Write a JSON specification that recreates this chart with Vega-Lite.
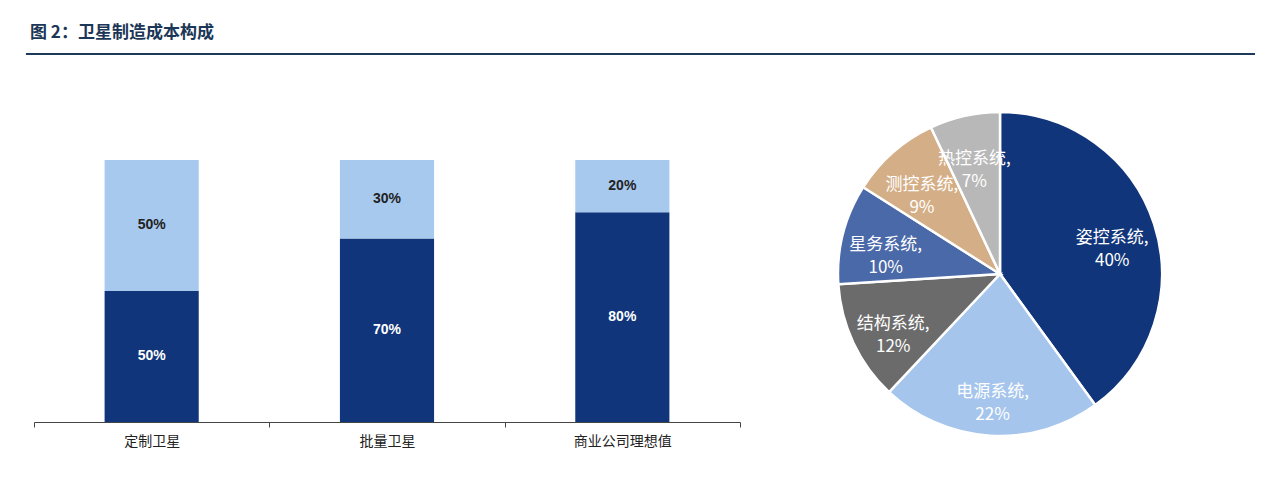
{
  "$schema": "https://vega.github.io/schema/vega-lite/v6.json",
  "background": "white",
  "padding": {"left": 24, "top": 24, "right": 10, "bottom": 5},
  "bounds": "flush",
  "spacing": 58,
  "config": {"view": {"stroke": null}, "font": "Noto Sans CJK SC"},
  "datasets": {
    "bars": [
      {"类别": "定制卫星", "部分": "下段", "层次": 1, "占比": 0.5},
      {"类别": "定制卫星", "部分": "上段", "层次": 2, "占比": 0.5},
      {"类别": "批量卫星", "部分": "下段", "层次": 1, "占比": 0.7},
      {"类别": "批量卫星", "部分": "上段", "层次": 2, "占比": 0.3},
      {"类别": "商业公司理想值", "部分": "下段", "层次": 1, "占比": 0.8},
      {"类别": "商业公司理想值", "部分": "上段", "层次": 2, "占比": 0.2}
    ],
    "pie": [
      {"系统": "姿控系统", "序号": 1, "占比": 40, "标签": "姿控系统,\n40%"},
      {"系统": "电源系统", "序号": 2, "占比": 22, "标签": "电源系统,\n22%"},
      {"系统": "结构系统", "序号": 3, "占比": 12, "标签": "结构系统,\n12%"},
      {"系统": "星务系统", "序号": 4, "占比": 10, "标签": "星务系统,\n10%"},
      {"系统": "测控系统", "序号": 5, "占比": 9, "标签": "测控系统,\n9%"},
      {"系统": "热控系统", "序号": 6, "占比": 7, "标签": "热控系统,\n7%"}
    ]
  },
  "vconcat": [
    {
      "title": {"text": "图 2：卫星制造成本构成", "anchor": "start", "frame": "group", "fontSize": 17, "fontWeight": "bold", "color": "#1b3656", "offset": 10, "dx": -4, "font": "Noto Sans CJK SC"},
      "width": 1221,
      "height": 2,
      "data": {"values": [{"起": -0.0066, "止": 1}]},
      "mark": {"type": "rule", "color": "#1d3a58", "strokeWidth": 2},
      "encoding": {
        "x": {"field": "起", "type": "quantitative", "scale": {"domain": [0, 1], "nice": false, "zero": false}, "axis": null},
        "x2": {"field": "止"},
        "y": {"datum": 0, "type": "quantitative", "scale": {"domain": [0, 1]}, "axis": null}
      }
    },
    {
      "bounds": "flush",
      "spacing": 98,
      "resolve": {"scale": {"color": "independent"}},
      "hconcat": [
        {
          "width": 706,
          "height": 310,
          "data": {"name": "bars"},
          "transform": [
            {"stack": "占比", "groupby": ["类别"], "sort": [{"field": "层次", "order": "ascending"}], "as": ["y0", "y1"]},
            {"calculate": "(datum.y0 + datum.y1) / 2", "as": "ymid"}
          ],
          "encoding": {
            "x": {
              "field": "类别", "type": "nominal", "sort": null,
              "scale": {"paddingInner": 0, "paddingOuter": 0},
              "axis": {"title": null, "labelAngle": 0, "labelFontSize": 14, "labelColor": "#222", "labelPadding": 7, "tickBand": "extent", "tickSize": 5, "domainColor": "#444", "tickColor": "#444", "labelFont": "Noto Sans CJK SC"}
            }
          },
          "layer": [
            {
              "mark": {"type": "bar", "width": {"band": 0.4}},
              "encoding": {
                "y": {"field": "y0", "type": "quantitative", "scale": {"domain": [0, 1.183], "nice": false}, "axis": null},
                "y2": {"field": "y1"},
                "color": {"field": "部分", "type": "nominal", "scale": {"domain": ["下段", "上段"], "range": ["#10357a", "#a8c9ee"]}, "legend": null}
              }
            },
            {
              "mark": {"type": "text", "fontSize": 14, "fontWeight": "bold", "font": "Liberation Sans"},
              "encoding": {
                "y": {"field": "ymid", "type": "quantitative"},
                "text": {"field": "占比", "type": "quantitative", "format": ".0%"},
                "color": {"condition": {"test": "datum['层次'] == 1", "value": "white"}, "value": "#222"}
              }
            }
          ]
        },
        {
          "width": 324,
          "height": 324,
          "data": {"name": "pie"},
          "encoding": {
            "theta": {"field": "占比", "type": "quantitative", "stack": true},
            "order": {"field": "序号", "type": "quantitative"}
          },
          "layer": [
            {
              "mark": {"type": "arc", "outerRadius": 162, "stroke": "white", "strokeWidth": 2.5},
              "encoding": {
                "color": {"field": "系统", "type": "nominal", "sort": null, "legend": null,
                  "scale": {"domain": ["姿控系统", "电源系统", "结构系统", "星务系统", "测控系统", "热控系统"],
                            "range": ["#11357a", "#a5c5ec", "#6b6b6b", "#4a69a8", "#d4ae86", "#b8b8b8"]}}
              }
            },
            {
              "mark": {"type": "text", "radius": 118, "color": "white", "fontSize": 17, "lineBreak": "\n", "lineHeight": 23},
              "encoding": {"text": {"field": "标签", "type": "nominal"}}
            }
          ]
        }
      ]
    }
  ]
}
